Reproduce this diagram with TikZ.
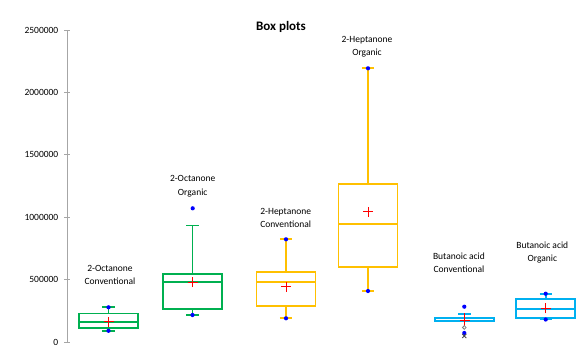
\documentclass[tikz,border=0pt]{standalone}
\usepackage{fontspec}
\setmainfont{Carlito}
\definecolor{bpgreen}{HTML}{00B050}
\definecolor{bpyellow}{HTML}{FFC000}
\definecolor{bpblue}{HTML}{00B0F0}
\definecolor{dotblue}{HTML}{0000FF}
\definecolor{axisgrey}{HTML}{A6A6A6}
\newcommand{\boxplt}[9]{%
  % #1 color, #2 cx, #3 top(q3), #4 median, #5 bottom(q1), #6 whisker hi, #7 whisker lo, #8 mean, #9 name
  \draw[bpline,#1] (#2,#3) -- (#2,#6);
  \draw[bpline,#1] (#2,#5) -- (#2,#7);
  \draw[bpline,#1] ([xshift=-6.2pt]#2,#6) -- ([xshift=6.2pt]#2,#6);
  \draw[bpline,#1] ([xshift=-6.2pt]#2,#7) -- ([xshift=6.2pt]#2,#7);
  \draw[bpline,#1,fill=white] ([xshift=-29.5pt]#2,#3) rectangle ([xshift=29.5pt]#2,#5);
  \draw[bpline,#1] ([xshift=-29.5pt]#2,#4) -- ([xshift=29.5pt]#2,#4);
  \draw[meanmark] ([xshift=-5pt]#2,#8) -- ([xshift=5pt]#2,#8);
  \draw[meanmark] ([yshift=-5pt]#2,#8) -- ([yshift=5pt]#2,#8);
  \coordinate (#9) at (#2,#8);
}
\begin{document}
\begin{tikzpicture}[x=1pt,y=-1pt,
  bpline/.style={line width=1.8pt},
  meanmark/.style={red,line width=0.9pt},
  bluedot/.style={circle,fill=dotblue,inner sep=0pt,minimum size=4.2pt},
  ticklab/.style={anchor=east,font=\fontsize{9.5}{11}\selectfont,inner sep=0pt},
  catlab/.style={align=center,font=\fontsize{9.5}{13.2}\selectfont,inner sep=0pt},
  axisline/.style={axisgrey,line width=0.8pt}]
\useasboundingbox (0,0) rectangle (586,346);
\fill[white] (0,0) rectangle (586,346);
% title
\node[font=\fontsize{13}{15}\bfseries] (title) at (281,26.7) {Box plots};
% axis
\coordinate (axtop) at (67,30);
\coordinate (axbot) at (67,342);
\draw[axisline] (axtop) -- (axbot);
\foreach \v/\lab [count=\i] in {0/0,1/500000,2/1000000,3/1500000,4/2000000,5/2500000}{
  \pgfmathsetmacro{\yy}{342-62.4*\v}
  \draw[axisline] (64,\yy) -- (70,\yy);
  \node[ticklab] (tick\i) at (58.5,\yy) {\lab};
}
% box plots
\boxplt{bpgreen}{108.5}{313.5}{322.3}{327.8}{307.3}{330.8}{321.7}{m1}
\node[bluedot] (d1a) at (108.5,307.3) {};
\node[bluedot] (d1b) at (108.5,330.8) {};
\boxplt{bpgreen}{192.5}{274.3}{282.3}{309}{225.5}{315}{282}{m2}
\node[bluedot] (d2a) at (192.5,315) {};
\node[bluedot] (d2o) at (192.7,208.3) {};
\boxplt{bpyellow}{286}{271.7}{282.3}{306}{239.3}{318.3}{286.7}{m3}
\node[bluedot] (d3a) at (286,239.3) {};
\node[bluedot] (d3b) at (286,318.3) {};
\boxplt{bpyellow}{368}{184.3}{223.7}{266.7}{68.3}{291}{211.7}{m4}
\node[bluedot] (d4a) at (368,68.3) {};
\node[bluedot] (d4b) at (368,291) {};
% butanoic conventional
\draw[bpline,bpblue] (464.5,317.7) -- (464.5,314.3);
\draw[bpline,bpblue] (458.3,314.3) -- (470.7,314.3);
\draw[bpline,bpblue,fill=white] (435,317.7) rectangle (494,321.3);
\draw[meanmark] (459.5,320) -- (469.5,320);
\draw[meanmark] (464.5,313) -- (464.5,326);
\node[bluedot] (d5o) at (464.3,306.7) {};
\node[circle,draw=gray,line width=0.8pt,inner sep=0pt,minimum size=3.6pt] (d5c) at (464.3,327.5) {};
\node[bluedot] (d5x) at (464.3,333) {};
\draw[black!70,line width=0.9pt] (462.3,334) -- (466.3,338) (462.3,338) -- (466.3,334);
\boxplt{bpblue}{545.7}{299}{308.7}{317.7}{293.7}{319.5}{308.3}{m6}
\node[bluedot] (d6a) at (545.7,293.7) {};
\node[bluedot] (d6b) at (545.7,319.5) {};
% category labels
\node[catlab] (l1) at (110,275) {2-Octanone\\Conventional};
\node[catlab] (l2) at (192.7,186.2) {2-Octanone\\Organic};
\node[catlab] (l3) at (285.7,218.3) {2-Heptanone\\Conventional};
\node[catlab] (l4) at (367,47) {2-Heptanone\\Organic};
\node[catlab] (l5) at (459,262.5) {Butanoic acid\\Conventional};
\node[catlab] (l6) at (542.3,252.7) {Butanoic acid\\Organic};
\end{tikzpicture}
\end{document}
